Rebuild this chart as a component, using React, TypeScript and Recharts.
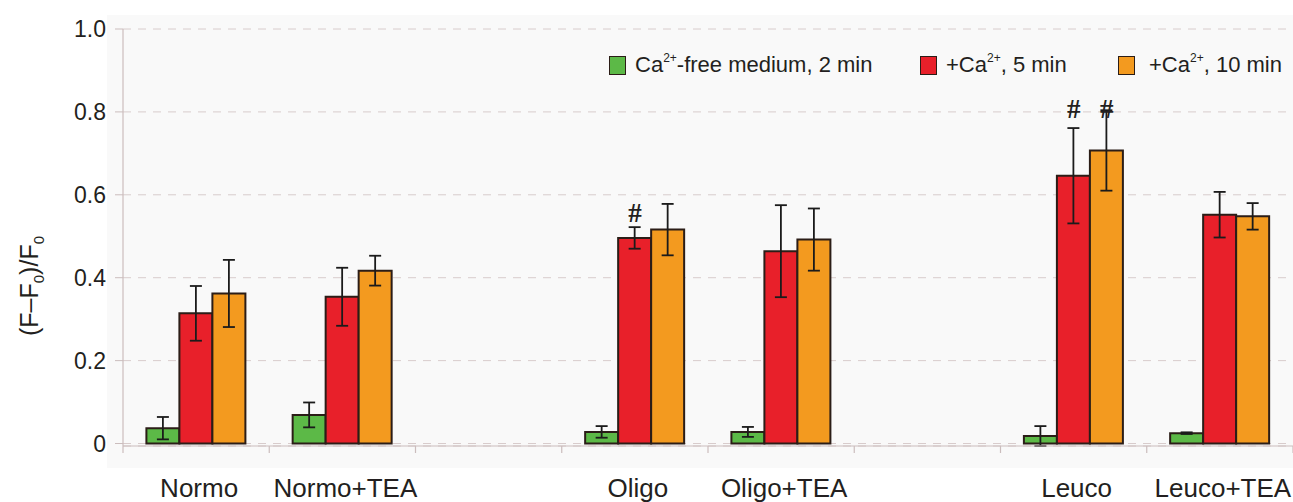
import * as React from 'react';
import { Bar, BarChart, CartesianGrid, ErrorBar, ReferenceDot, XAxis, YAxis } from 'recharts';

// groups, with blank spacer slots between the three conditions (kept distinct)
const groups = ['Normo', 'Normo+TEA', ' ', 'Oligo', 'Oligo+TEA', '  ', 'Leuco', 'Leuco+TEA'];

const freeMean = [0.037, 0.069, null, 0.028, 0.028, null, 0.018, 0.025];
const freeErr = [0.027, 0.03, null, 0.014, 0.012, null, 0.024, 0.002];
const ca5Mean = [0.314, 0.354, null, 0.496, 0.464, null, 0.646, 0.552];
const ca5Err = [0.066, 0.07, null, 0.026, 0.111, null, 0.115, 0.055];
const ca10Mean = [0.362, 0.417, null, 0.516, 0.492, null, 0.707, 0.548];
const ca10Err = [0.081, 0.036, null, 0.062, 0.075, null, 0.097, 0.032];

// level (in y units) where a "#" significance mark sits
const ca5Sig = [null, null, null, 0.555, null, null, 0.808, null];
const ca10Sig = [null, null, null, null, null, null, 0.808, null];

const yTicks = [0, 0.2, 0.4, 0.6, 0.8, 1.0];

const data = groups.map((name, i) => ({
  name,
  free: freeMean[i],
  freeErr: freeErr[i],
  ca5: ca5Mean[i],
  ca5Err: ca5Err[i],
  ca10: ca10Mean[i],
  ca10Err: ca10Err[i],
}));

const W = 1293;
const H = 502;
const LEFT = 123;
const TOP = 29;
const XAXIS_H = 56;
const AXIS_Y = H - XAXIS_H;
const BAND = (W - LEFT) / groups.length;
const GAP_PCT = 0.16;
const BAR_W = (BAND * (1 - 2 * GAP_PCT)) / 3;

const FONT = '"Liberation Sans", Arial, sans-serif';
const INK = '#231f20';
const AXIS = '#cbbdbd';
const GREEN = '#5cb947';
const RED = '#e8202a';
const ORANGE = '#f39a1f';
const EDGE = '#2b1d17';

function CategoryTick(props: any) {
  const { x, payload, index } = props;
  const left = x - BAND / 2;
  const right = x + BAND / 2;
  return (
    <g>
      <line x1={left} x2={left} y1={AXIS_Y} y2={AXIS_Y + 7} stroke={AXIS} strokeWidth={1.2} />
      {index === groups.length - 1 && (
        <line x1={right} x2={right} y1={AXIS_Y} y2={AXIS_Y + 7} stroke={AXIS} strokeWidth={1.2} />
      )}
      <text x={x + 3} y={497} textAnchor="middle" fontSize={26} fontFamily={FONT} fill={INK}>
        {payload.value.trim()}
      </text>
    </g>
  );
}

// "#" mark; dx shifts from the group centre to the bar it belongs to
function hashShape(dx: number) {
  return function Hash(props: any) {
    const { cx, cy } = props;
    if (cx == null || cy == null) return null;
    return (
      <text
        x={cx + dx}
        y={cy + 9}
        textAnchor="middle"
        style={{ fontSize: 27, fontWeight: 'bold', fontFamily: '"Liberation Serif", "DejaVu Serif", serif' }}
        fill={INK}
      >
        #
      </text>
    );
  };
}

function YLabel() {
  return (
    <text
      transform="translate(38, 286) rotate(-90)"
      textAnchor="middle"
      fontSize={25}
      fontFamily={FONT}
      fill={INK}
    >
      (F–F
      <tspan fontSize={15} dy={6}>0</tspan>
      <tspan dy={-6}>)/F</tspan>
      <tspan fontSize={15} dy={6}>0</tspan>
    </text>
  );
}

const legendItems = [
  { color: GREEN, pre: 'Ca', post: '-free medium, 2 min', left: 609 },
  { color: RED, pre: '+Ca', post: ', 5 min', left: 920 },
  { color: ORANGE, pre: '+Ca', post: ', 10 min', left: 1118 },
];

function LegendBox() {
  return (
    <>
      {legendItems.map((it, i) => (
        <div
          key={i}
          style={{
            position: 'absolute',
            left: it.left,
            top: 52,
            display: 'flex',
            alignItems: 'center',
            fontFamily: FONT,
            fontSize: 22,
            color: INK,
            whiteSpace: 'nowrap',
          }}
        >
          <span
            style={{
              display: 'inline-block',
              width: 15,
              height: 17,
              background: it.color,
              border: `1.5px solid ${EDGE}`,
              marginRight: i === 2 ? 14 : 9,
            }}
          />
          <span>
            {it.pre}
            <sup style={{ fontSize: 12, verticalAlign: 'top', position: 'relative', top: -1 }}>2+</sup>
            {it.post}
          </span>
        </div>
      ))}
    </>
  );
}

export default function App() {
  return (
    <div style={{ position: 'absolute', left: 0, top: 0, width: W, height: H, background: '#fff' }}>
      <div
        style={{ position: 'absolute', left: 107, top: 15, width: W - 107, height: 468 - 15, background: '#f9f9f9' }}
      />
      <BarChart
        width={W}
        height={H}
        data={data}
        margin={{ top: TOP, right: 0, bottom: 0, left: 0 }}
        barCategoryGap={`${GAP_PCT * 100}%`}
        barGap={0}
        style={{ position: 'absolute', left: 0, top: 0 }}
      >
        <CartesianGrid vertical={false} stroke="#d8cccc" strokeDasharray="8 7" />
        <YAxis
          width={LEFT}
          domain={[0, 1]}
          ticks={yTicks}
          interval={0}
          tickFormatter={(v: number) => (v === 0 ? '0' : v.toFixed(1))}
          tick={{ fontSize: 23, fontFamily: FONT, fill: INK }}
          tickSize={8}
          tickMargin={9}
          tickLine={{ stroke: AXIS }}
          axisLine={{ stroke: AXIS, strokeWidth: 1.2 }}
          label={{ content: () => <YLabel /> }}
        />
        <XAxis
          dataKey="name"
          height={XAXIS_H}
          interval={0}
          allowDuplicatedCategory={false}
          tickLine={false}
          axisLine={{ stroke: AXIS, strokeWidth: 1.2 }}
          tick={<CategoryTick />}
        />
        <Bar dataKey="free" fill={GREEN} stroke={EDGE} strokeWidth={2} isAnimationActive={false}>
          <ErrorBar dataKey="freeErr" width={6} stroke="#1b1b1b" strokeWidth={1.8} />
        </Bar>
        <Bar dataKey="ca5" fill={RED} stroke={EDGE} strokeWidth={2} isAnimationActive={false}>
          <ErrorBar dataKey="ca5Err" width={6} stroke="#1b1b1b" strokeWidth={1.8} />
        </Bar>
        <Bar dataKey="ca10" fill={ORANGE} stroke={EDGE} strokeWidth={2} isAnimationActive={false}>
          <ErrorBar dataKey="ca10Err" width={6} stroke="#1b1b1b" strokeWidth={1.8} />
        </Bar>
        {groups.map((g, i) =>
          ca5Sig[i] != null ? (
            <ReferenceDot key={`s5-${i}`} x={g} y={ca5Sig[i] as number} ifOverflow="visible" shape={hashShape(0)} />
          ) : null,
        )}
        {groups.map((g, i) =>
          ca10Sig[i] != null ? (
            <ReferenceDot key={`s10-${i}`} x={g} y={ca10Sig[i] as number} ifOverflow="visible" shape={hashShape(BAR_W)} />
          ) : null,
        )}
      </BarChart>
      <LegendBox />
    </div>
  );
}
